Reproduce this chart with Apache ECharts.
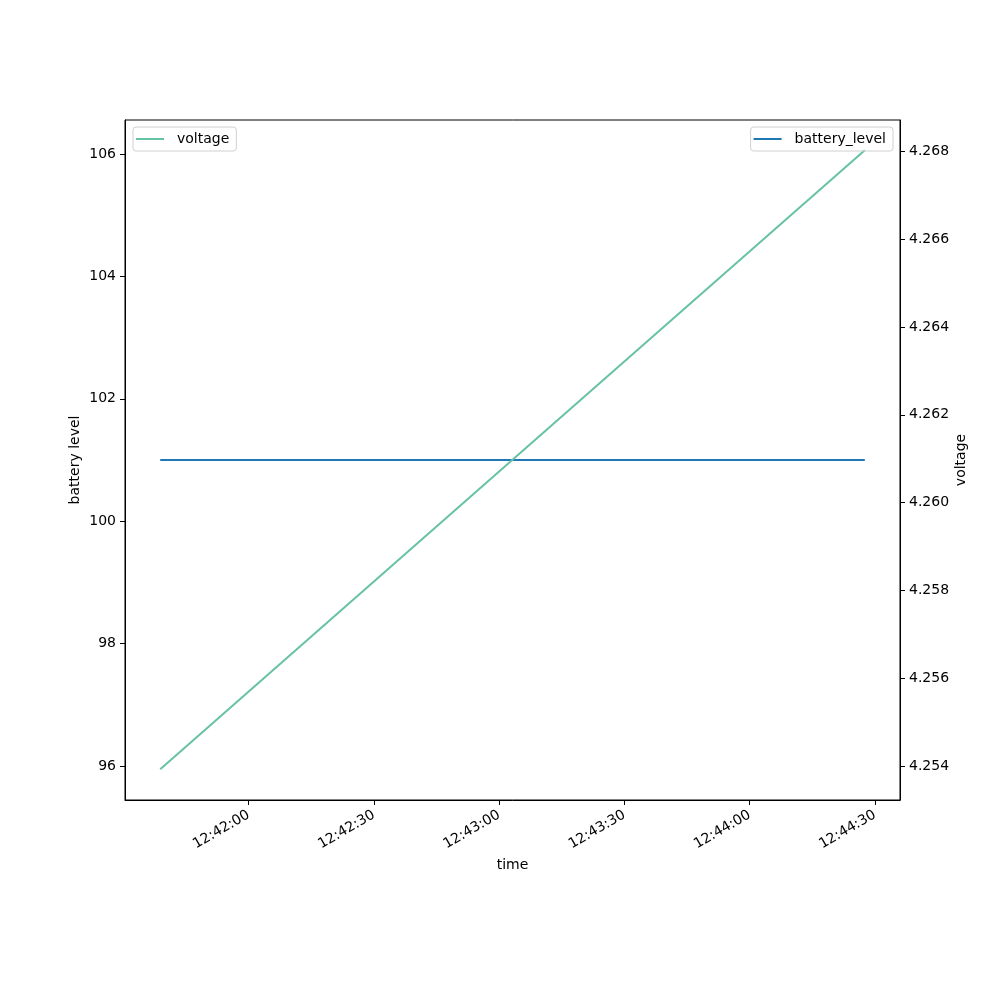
<!DOCTYPE html>
<html>
<head>
<meta charset="utf-8">
<script src="https://cdn.jsdelivr.net/npm/echarts@6/dist/echarts.min.js"></script>
<style>html,body{margin:0;padding:0;background:#fff}#c{width:1000px;height:1000px}</style>
</head>
<body>
<div id="c"></div>
<script>
// time in seconds since midnight
const times = [45698.8, 45867.6];
const batteryLevel = [101, 101];
const voltage = [4.25393, 4.26802];
const xTicks = [45720, 45750, 45780, 45810, 45840, 45870];
const leftTicks = [96, 98, 100, 102, 104, 106];
const rightTicks = [4.254, 4.256, 4.258, 4.260, 4.262, 4.264, 4.266, 4.268];

function fmtTime(s) {
  const h = Math.floor(s / 3600), m = Math.floor((s % 3600) / 60), sec = Math.round(s % 60);
  const p = n => String(n).padStart(2, '0');
  return p(h) + ':' + p(m) + ':' + p(sec);
}

const FONT = 'DejaVu Sans';
const chart = echarts.init(document.getElementById('c'), null, {renderer: 'canvas'});
chart.setOption({
  animation: false,
  backgroundColor: '#fff',
  textStyle: {fontFamily: FONT},
  grid: {left: 125, right: 100, top: 120, bottom: 200, show: true, borderColor: '#000', borderWidth: 1, backgroundColor: 'transparent', containLabel: false},
  legend: [
    {data: ['voltage'], left: 133, top: 127, orient: 'vertical', padding: [5, 7, 5, 3], borderColor: '#d0d0d0', borderWidth: 1, borderRadius: 3,
     itemWidth: 28, itemHeight: 2, icon: 'rect', itemGap: 0, textStyle: {fontFamily: FONT, fontSize: 14, color: '#000', padding: [0, 0, 0, 8]}},
    {data: ['battery_level'], right: 107, top: 127, orient: 'vertical', padding: [5, 7, 5, 3], borderColor: '#d0d0d0', borderWidth: 1, borderRadius: 3,
     itemWidth: 28, itemHeight: 2, icon: 'rect', itemGap: 0, textStyle: {fontFamily: FONT, fontSize: 14, color: '#000', padding: [0, 0, 0, 8]}}
  ],
  xAxis: {
    type: 'value', min: 45690.36, max: 45876.04,
    name: 'time', nameLocation: 'middle', nameGap: 57,
    nameTextStyle: {fontFamily: FONT, fontSize: 14, color: '#000'},
    axisLine: {show: true, lineStyle: {color: '#000', width: 1}},
    axisTick: {show: true, length: 5, customValues: xTicks, lineStyle: {color: '#000'}},
    axisLabel: {customValues: xTicks, rotate: 30, margin: 14, fontFamily: FONT, fontSize: 14, color: '#000', formatter: v => fmtTime(v)},
    splitLine: {show: false}
  },
  yAxis: [
    {
      type: 'value', min: 95.444, max: 106.556, position: 'left',
      name: 'battery level', nameLocation: 'middle', nameGap: 43, nameRotate: 90, nameMoveOverlap: false,
      nameTextStyle: {fontFamily: FONT, fontSize: 14, color: '#000'},
      axisLine: {show: true, lineStyle: {color: '#000', width: 1}},
      axisTick: {show: true, length: 5, customValues: leftTicks, lineStyle: {color: '#000'}},
      axisLabel: {customValues: leftTicks, margin: 9, fontFamily: FONT, fontSize: 14, color: '#000'},
      splitLine: {show: false}
    },
    {
      type: 'value', min: 4.25323, max: 4.26871, position: 'right',
      name: 'voltage', nameLocation: 'middle', nameGap: 54, nameRotate: 90, nameMoveOverlap: false,
      nameTextStyle: {fontFamily: FONT, fontSize: 14, color: '#000'},
      axisLine: {show: true, lineStyle: {color: '#000', width: 1}},
      axisTick: {show: true, length: 5, customValues: rightTicks, lineStyle: {color: '#000'}},
      axisLabel: {customValues: rightTicks, margin: 9, fontFamily: FONT, fontSize: 14, color: '#000', formatter: v => v.toFixed(3)},
      splitLine: {show: false}
    }
  ],
  series: [
    {name: 'battery_level', type: 'line', yAxisIndex: 0, showSymbol: false, color: '#1f77b4', lineStyle: {width: 2, color: '#1f77b4'},
     data: times.map((t, i) => [t, batteryLevel[i]])},
    {name: 'voltage', type: 'line', yAxisIndex: 1, showSymbol: false, color: '#66c2a5', lineStyle: {width: 2, color: '#66c2a5'},
     data: times.map((t, i) => [t, voltage[i]])}
  ]
});
</script>
</body>
</html>
